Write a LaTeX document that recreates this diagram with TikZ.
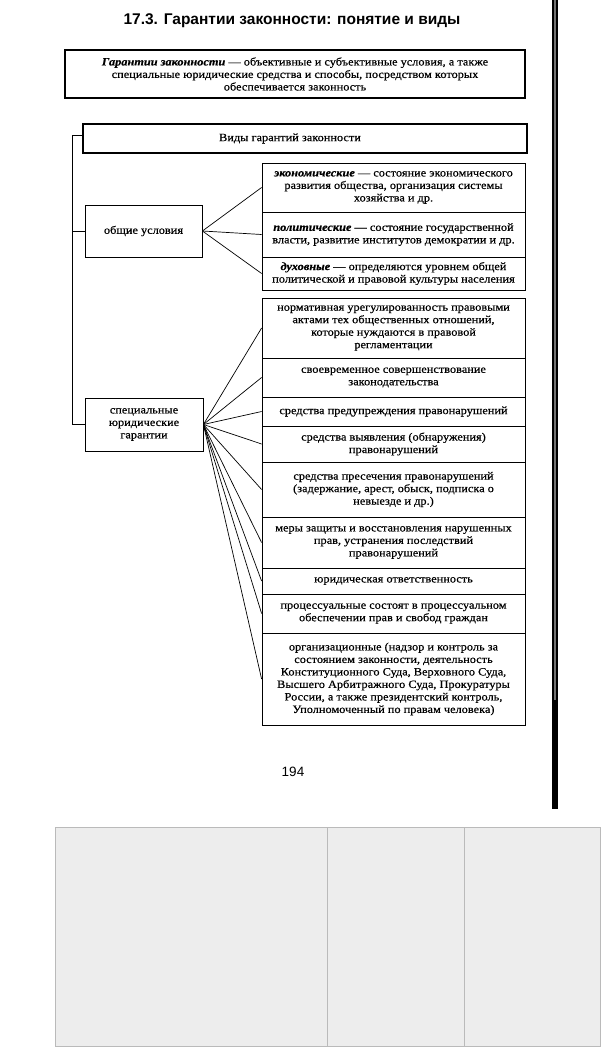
\documentclass[tikz,border=0pt]{standalone}
\usepackage{fontspec}
\setmainfont[FakeStretch=1.1,FakeBold=0.5]{Liberation Serif}
\newfontfamily\titlefont{Liberation Sans}
\begin{document}
\begin{tikzpicture}[x=1pt,y=-1pt,
  txt/.style={font=\fontsize{11.2}{12.5}\selectfont, align=center, inner sep=0pt},
  box/.style={draw, line width=0.8pt, txt, minimum width=263pt},
  lbox/.style={draw, line width=0.8pt, txt, minimum width=118pt, minimum height=53pt},
  thickbox/.style={draw, line width=2.6pt, txt},
  conn/.style={line width=0.7pt},
  cell/.style={draw=black!27, fill=black!7, line width=0.6pt}
]
\useasboundingbox (0,0) rectangle (602,1048);
% right bar
\fill[black!55] (552,0) rectangle (558,809);
\draw[line width=1.6pt] (552.8,0) -- (552.8,809);
\draw[line width=1.6pt] (557.2,0) -- (557.2,809);
\fill (553,700) rectangle (557,809);
% title
\node[anchor=base, inner sep=0pt, font=\titlefont\bfseries\fontsize{15.5}{18}\selectfont] (title) at (292,25) {17.3. Гарантии законности: понятие и виды};
% definition
\node[thickbox, minimum width=460pt, minimum height=48pt] (def) at (295,74) {\textbf{\textit{Гарантии законности}} — объективные и субъективные условия, а также\\специальные юридические средства и способы, посредством которых\\обеспечивается законность};
% kinds
\node[thickbox, minimum width=444pt, minimum height=29pt] (vidy) at (305,138.5) {\hspace*{-30pt}Виды гарантий законности};
% left boxes
\node[lbox, minimum width=117pt, minimum height=52pt] (obsh) at (143.5,231) {общие условия};
\node[lbox] (spec) at (144,424.5) {специальные\\юридические\\гарантии};
% trunk
\coordinate (trunk) at (72,0);
\draw[conn] (vidy.west |- 0,135) -- (trunk |- 0,135) |- (spec.west);
\draw[conn] (obsh.west) -- (obsh.west -| trunk);
% general boxes
\node[box, minimum height=49pt] (eco) at (393.5,187.5) {\textbf{\textit{экономические}} — состояние экономического\\развития общества, организация системы\\хозяйства и др.};
\node[box, minimum height=45pt] (pol) at (393.5,234.5) {\textbf{\textit{политические}} — состояние государственной\\власти, развитие институтов демократии и др.};
\node[box, minimum height=33pt] (duh) at (393.5,273.5) {\textbf{\textit{духовные}} — определяются уровнем общей\\политической и правовой культуры населения};
% special boxes
\node[box, minimum height=60pt] (norm) at (393.5,328) {нормативная урегулированность правовыми\\актами тех общественных отношений,\\которые нуждаются в правовой\\регламентации};
\node[box, minimum height=39pt] (svoe) at (393.5,377.5) {своевременное совершенствование\\законодательства};
\node[box, minimum height=29pt] (pred) at (393.5,411.5) {средства предупреждения правонарушений};
\node[box, minimum height=36pt] (vyav) at (393.5,444) {средства выявления (обнаружения)\\правонарушений};
\node[box, minimum height=55pt] (pres) at (393.5,489.5) {средства пресечения правонарушений\\(задержание, арест, обыск, подписка о\\невыезде и др.)};
\node[box, minimum height=51pt] (mery) at (393.5,542.5) {меры защиты и восстановления нарушенных\\прав, устранения последствий\\правонарушений};
\node[box, minimum height=26pt] (yur) at (393.5,581) {юридическая ответственность};
\node[box, minimum height=39pt] (proc) at (393.5,613.5) {процессуальные состоят в процессуальном\\обеспечении прав и свобод граждан};
\node[box, minimum height=92pt] (org) at (393.5,679) {организационные (надзор и контроль за\\состоянием законности, деятельность\\Конституционного Суда, Верховного Суда,\\Высшего Арбитражного Суда, Прокуратуры\\России, а также президентский контроль,\\Уполномоченный по правам человека)};
% connectors
\foreach \b in {eco,pol,duh} \draw[conn] (obsh.east) -- (\b.west);
\foreach \b in {norm,svoe,pred,vyav,pres,mery,yur,proc,org} \draw[conn] (spec.east) -- (\b.west);
% page number
\node[inner sep=0pt, font=\titlefont\fontsize{13.5}{16}\selectfont] (page) at (293,772) {194};
% gray table
\draw[cell] (55,827) rectangle (327,1046);
\draw[cell] (327,827) rectangle (464,1046);
\draw[cell] (464,827) rectangle (600,1046);
\end{tikzpicture}
\end{document}
